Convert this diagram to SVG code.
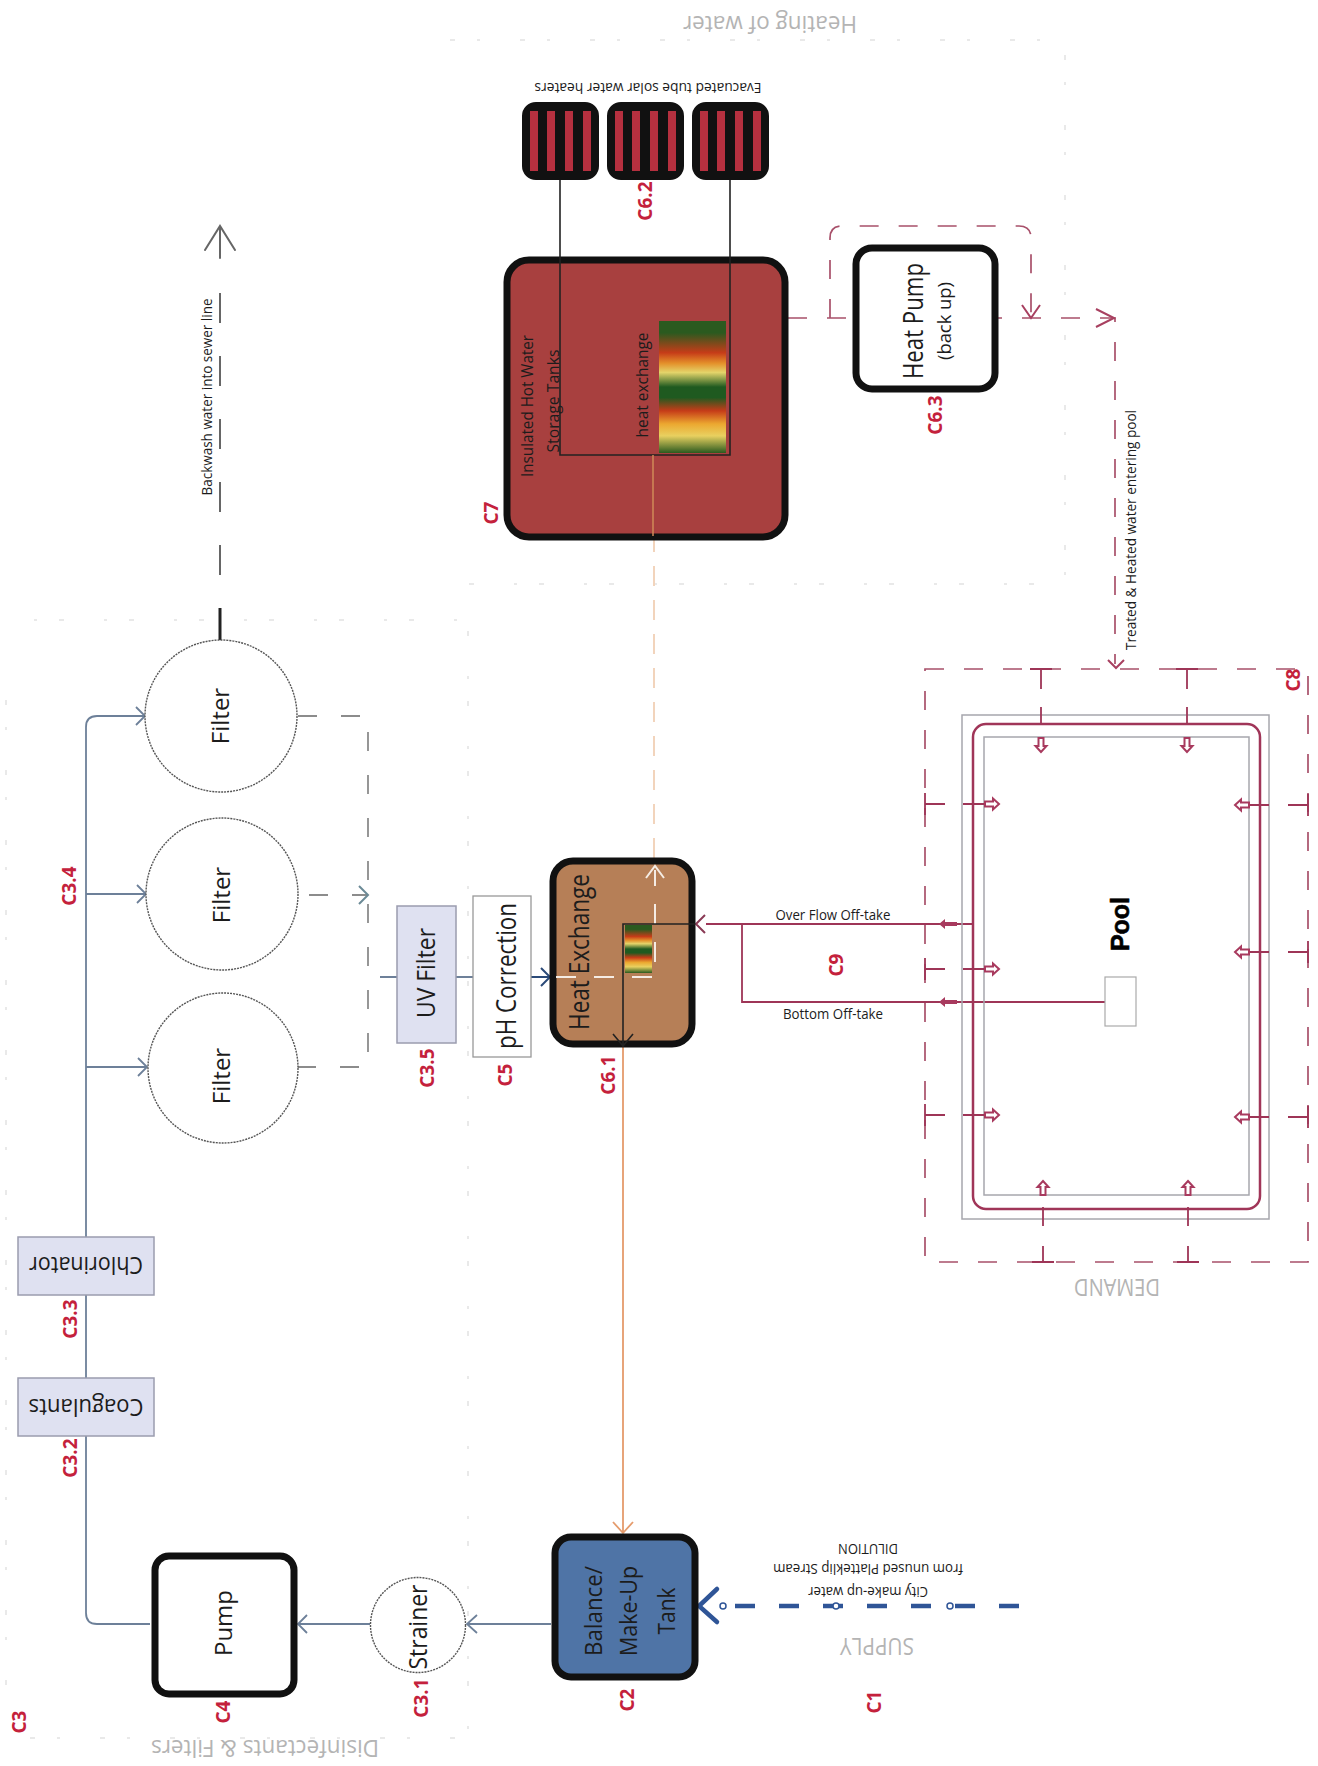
<svg xmlns="http://www.w3.org/2000/svg" xmlns:xlink="http://www.w3.org/1999/xlink" width="1318" height="1766" viewBox="0 0 1318 1766">
<style>
text{font-family:"Open Sans","Noto Sans","Liberation Sans",sans-serif;text-anchor:middle;dominant-baseline:central;fill:#1c1c1c}
.code{font-weight:700;font-size:19px;fill:#c4213c}
.zone{fill:#b4b4b4;font-size:24px}
.small{font-size:15px}
.faint{fill:none;stroke:#e2e2e2;stroke-width:1.5;stroke-dasharray:5 22 3 40}
.box{stroke:#111;stroke-width:7}
.chem{fill:#dfe1f1;stroke:#9b9cae;stroke-width:1.5}
.filter{fill:#fff;stroke:#555;stroke-width:1.4;stroke-dasharray:2 1}
.blue{fill:none;stroke:#6d8099;stroke-width:1.8}
.grey{fill:none;stroke:#8c8c8c;stroke-width:1.8;stroke-dasharray:19 24}
.red{fill:none;stroke:#9e3557;stroke-width:1.8}
.reddash{fill:none;stroke:#a8506a;stroke-width:1.7;stroke-dasharray:19 20}
.gr{fill:none;stroke:#a7a7ad;stroke-width:1.5}
.blk{fill:none;stroke:#222;stroke-width:1.6}
.panel{fill:#111;stroke:#111;stroke-width:2}
.strip{fill:#b5303f}
</style>
<defs>
<linearGradient id="heat" x1="0" y1="0" x2="0" y2="1">
<stop offset="0" stop-color="#2b5a1f"/><stop offset=".09" stop-color="#2b5a1f"/><stop offset=".24" stop-color="#c63c18"/><stop offset=".32" stop-color="#e4902a"/><stop offset=".39" stop-color="#e4d46a"/><stop offset=".5" stop-color="#1f5a20"/><stop offset=".58" stop-color="#1f5a20"/><stop offset=".68" stop-color="#c63c18"/><stop offset=".78" stop-color="#eca830"/><stop offset=".87" stop-color="#e8d060"/><stop offset="1" stop-color="#2b5a1f"/>
</linearGradient>
<g id="inlet"><path d="M0 -7 L5.5 -1 H2.5 V7 H-2.5 V-1 H-5.5 Z" fill="#fff" stroke="#a83a5e" stroke-width="2"/></g>
<g id="out"><path d="M-9 0 L-3 -5 V-2 H9 V2 H-3 V5 Z" fill="#a83a5e"/></g>
<g id="panel"><rect class="panel" x="0" y="0" width="75" height="76" rx="13"/><rect class="strip" x="7" y="8" width="8" height="60"/><rect class="strip" x="24" y="8" width="8" height="60"/><rect class="strip" x="42" y="8" width="8" height="60"/><rect class="strip" x="60" y="8" width="8" height="60"/></g>
</defs>
<rect width="1318" height="1766" fill="#fff"/>

<g id="zones">
<path class="faint" d="M30 1738H468V620H30"/>
<path class="faint" d="M6 700V1700"/>
<path class="faint" d="M450 40H1065V584H450"/>
<text class="zone" transform="rotate(180 265 1749)" x="265" y="1749" textLength="228" lengthAdjust="spacingAndGlyphs">Disinfectants &amp; Filters</text>
<text class="zone" transform="rotate(180 770 25)" x="770" y="25" textLength="174" lengthAdjust="spacingAndGlyphs">Heating of water</text>
<text class="zone" transform="rotate(180 877 1647)" x="877" y="1647" textLength="74" lengthAdjust="spacingAndGlyphs">SUPPLY</text>
<text class="zone" transform="rotate(180 1117 1288)" x="1117" y="1288" textLength="86" lengthAdjust="spacingAndGlyphs">DEMAND</text>
</g>

<g id="connectors">
<path class="blue" d="M551 1624H468M477 1615L467 1624L477 1633"/>
<path class="blue" d="M370 1624H298M307 1615L298 1624L307 1633"/>
<path class="blue" d="M150 1624H97Q86 1624 86 1613V727Q86 716 97 716H145"/>
<path class="blue" d="M136 707L145 716L136 725M86 894H146M137 885L146 894L137 903M86 1067H147M138 1058L147 1067L138 1076"/>
<path class="grey" d="M298 716H368V1067H298"/>
<path class="grey" d="M309 895H368"/>
<path fill="none" stroke="#6b8a96" stroke-width="2" d="M359 886L368 895L359 904"/>
<path class="blue" d="M380 977H397M456 977H473"/>
<path stroke="#2b4a78" stroke-width="2" fill="none" d="M531 977H550M541 968L550 977L541 986"/>
<path stroke="#e59b6c" stroke-width="1.8" fill="none" d="M623 1047V1533M613 1522L623 1533L633 1522"/>
<path stroke="#f2d4bc" stroke-width="2" fill="none" stroke-dasharray="20 14" d="M654 858V455"/>
<path stroke="#2f5597" stroke-width="4.5" fill="none" stroke-dasharray="20 24" d="M1019 1606H725"/>
<path stroke="#2f5597" stroke-width="4.5" fill="none" stroke-linecap="round" d="M717 1589L699 1606L717 1622"/>
<g fill="#fff" stroke="#2f5597" stroke-width="1.5"><circle cx="723" cy="1606" r="3"/><circle cx="836" cy="1606" r="3"/><circle cx="950" cy="1606" r="3"/></g>
<path fill="none" stroke="#222" stroke-width="3" d="M220 640V608"/>
<path fill="none" stroke="#666" stroke-width="2" stroke-dasharray="30 33" d="M220 575V291"/>
<path fill="none" stroke="#666" stroke-width="2" stroke-linecap="round" d="M220 258V226M205 250L220 226L235 250"/>
<path class="red" d="M973 924H706M742 924V1002H1105"/>
<path fill="none" stroke="#8a3a55" stroke-width="2" d="M705 915L696 924L705 933"/>
<use xlink:href="#out" href="#out" x="948" y="924"/>
<use xlink:href="#out" href="#out" x="948" y="1002"/>
<path class="reddash" d="M788 318H1115V664"/>
<path class="reddash" d="M830 318V238Q830 226 842 226H1019Q1031 226 1031 238V318"/>
<path fill="none" stroke="#a84060" stroke-width="2" d="M1096 309L1114 318L1096 327M1022 305L1031 318L1040 305M1108 660L1116 668L1124 660"/>
</g>

<g id="pool">
<rect class="reddash" x="925" y="669" width="383" height="593"/>
<rect class="gr" x="962" y="715" width="307" height="504"/>
<rect fill="none" stroke="#a03558" stroke-width="2.5" x="973" y="724" width="287" height="485" rx="13"/>
<rect class="gr" x="984" y="737" width="265" height="458"/>
<rect fill="#fff" stroke="#aaa" stroke-width="1.2" x="1105" y="977" width="31" height="49"/>
<path class="red" d="M1030 669H1052M1041 669V689M1041 707V724M1176 669H1198M1187 669V689M1187 707V724M1032 1262H1054M1043 1262V1246M1043 1226V1207M1177 1262H1199M1188 1262V1246M1188 1226V1207M925 793V815M925 804H945M963 804H985M925 958V980M925 969H945M963 969H985M925 1104V1126M925 1115H945M963 1115H985M1308 794V816M1308 805H1288M1269 805H1248M1308 941V963M1308 952H1288M1269 952H1248M1308 1106V1128M1308 1117H1288M1269 1117H1248"/>
<use xlink:href="#inlet" href="#inlet" transform="translate(1041 745) rotate(180)"/>
<use xlink:href="#inlet" href="#inlet" transform="translate(1187 745) rotate(180)"/>
<use xlink:href="#inlet" href="#inlet" transform="translate(1043 1188)"/>
<use xlink:href="#inlet" href="#inlet" transform="translate(1188 1188)"/>
<use xlink:href="#inlet" href="#inlet" transform="translate(992 804) rotate(90)"/>
<use xlink:href="#inlet" href="#inlet" transform="translate(992 969) rotate(90)"/>
<use xlink:href="#inlet" href="#inlet" transform="translate(992 1115) rotate(90)"/>
<use xlink:href="#inlet" href="#inlet" transform="translate(1242 805) rotate(-90)"/>
<use xlink:href="#inlet" href="#inlet" transform="translate(1242 952) rotate(-90)"/>
<use xlink:href="#inlet" href="#inlet" transform="translate(1242 1117) rotate(-90)"/>
<text transform="rotate(-90 1120 924)" x="1120" y="924" font-weight="800" font-size="25" style="fill:#000;stroke:#000;stroke-width:.6;font-family:'Liberation Sans',sans-serif">Pool</text>
<text class="code" transform="rotate(-90 1293 680)" x="1293" y="680">C8</text>
</g>

<g id="balance-tank">
<rect class="box" x="555" y="1537" width="140" height="140" rx="16" fill="#4f74a6"/>
<text transform="rotate(-90 592 1611)" x="592" y="1611" font-size="24" textLength="90" lengthAdjust="spacingAndGlyphs">Balance/</text>
<text transform="rotate(-90 627 1611)" x="627" y="1611" font-size="24" textLength="90" lengthAdjust="spacingAndGlyphs">Make-Up</text>
<text transform="rotate(-90 665 1611)" x="665" y="1611" font-size="24" textLength="47" lengthAdjust="spacingAndGlyphs">Tank</text>
</g>
<g id="strainer"><circle class="filter" cx="418" cy="1625" r="47.5"/><text transform="rotate(-90 417 1627)" x="417" y="1627" font-size="25" textLength="85" lengthAdjust="spacingAndGlyphs">Strainer</text></g>
<g id="pump"><rect class="box" x="155" y="1556" width="139" height="138" rx="14" fill="#fff"/><text transform="rotate(-90 222 1623)" x="222" y="1623" font-size="24">Pump</text></g>
<g id="coagulants"><rect class="chem" x="18" y="1378" width="136" height="58"/><text transform="rotate(180 86 1408)" x="86" y="1408" font-size="24" textLength="115" lengthAdjust="spacingAndGlyphs">Coagulants</text></g>
<g id="chlorinator"><rect class="chem" x="18" y="1237" width="136" height="58"/><text transform="rotate(180 86 1266)" x="86" y="1266" font-size="24" textLength="114" lengthAdjust="spacingAndGlyphs">Chlorinator</text></g>
<g id="filter-1"><circle class="filter" cx="221" cy="716" r="76"/><text transform="rotate(-90 219 716)" x="219" y="716" font-size="24">Filter</text></g>
<g id="filter-2"><circle class="filter" cx="222" cy="894" r="76"/><text transform="rotate(-90 220 895)" x="220" y="895" font-size="24">Filter</text></g>
<g id="filter-3"><circle class="filter" cx="223" cy="1068" r="75"/><text transform="rotate(-90 220 1076)" x="220" y="1076" font-size="24">Filter</text></g>
<g id="uv-filter"><rect class="chem" x="397" y="906" width="59" height="137"/><text transform="rotate(-90 425 973)" x="425" y="973" font-size="25" textLength="90" lengthAdjust="spacingAndGlyphs">UV Filter</text></g>
<g id="ph-correction"><rect fill="#fff" stroke="#999" stroke-width="1.3" x="473" y="896" width="58" height="161"/><text transform="rotate(-90 505 976)" x="505" y="976" font-size="27" textLength="146" lengthAdjust="spacingAndGlyphs">pH Correction</text></g>
<g id="heat-exchange">
<rect class="box" x="553" y="861" width="139" height="183" rx="20" fill="#b67f57"/>
<rect x="625" y="925" width="27" height="48" fill="url(#heat)"/>
<path fill="none" stroke="#f5ece4" stroke-width="2" stroke-dasharray="20 18" d="M556 977H655V870"/>
<path fill="none" stroke="#f5ece4" stroke-width="2" d="M646 878L655 866L664 878"/>
<path class="blk" stroke-width="2" d="M695 924H623V1047M613 1034L623 1046L633 1034"/>
<text transform="rotate(-90 578 952)" x="578" y="952" font-size="27" textLength="156" lengthAdjust="spacingAndGlyphs">Heat Exchange</text>
</g>
<g id="storage-tank">
<rect class="box" x="507" y="260" width="278" height="277" rx="22" fill="#a8403f"/>
<rect x="659" y="321" width="67" height="132" fill="url(#heat)"/>
<path class="blk" d="M560 178V455H730V178"/>
<path stroke="#d08a58" stroke-width="1.5" fill="none" d="M653 455V536"/>
<text transform="rotate(-90 526 406)" x="526" y="406" font-size="17" textLength="142" lengthAdjust="spacingAndGlyphs">Insulated Hot Water</text>
<text transform="rotate(-90 552 401)" x="552" y="401" font-size="17" textLength="103" lengthAdjust="spacingAndGlyphs">Storage Tanks</text>
<text transform="rotate(-90 641 385)" x="641" y="385" font-size="17" textLength="105" lengthAdjust="spacingAndGlyphs">heat exchange</text>
</g>
<g id="solar-heaters">
<use xlink:href="#panel" href="#panel" x="523" y="103"/>
<use xlink:href="#panel" href="#panel" x="608" y="103"/>
<use xlink:href="#panel" href="#panel" x="693" y="103"/>
<text class="small" transform="rotate(180 648 89)" x="648" y="89" textLength="227" lengthAdjust="spacingAndGlyphs">Evacuated tube solar water heaters</text>
</g>
<g id="heat-pump">
<rect class="box" x="856" y="248" width="139" height="141" rx="16" fill="#fff"/>
<text transform="rotate(-90 912 321)" x="912" y="321" font-size="27" textLength="116" lengthAdjust="spacingAndGlyphs">Heat Pump</text>
<text transform="rotate(-90 944 321)" x="944" y="321" font-size="19" textLength="78" lengthAdjust="spacingAndGlyphs">(back up)</text>
</g>

<g id="labels">
<text class="small" x="833" y="914" textLength="115" lengthAdjust="spacingAndGlyphs">Over Flow Off-take</text>
<text class="small" x="833" y="1013" textLength="100" lengthAdjust="spacingAndGlyphs">Bottom Off-take</text>
<text class="small" transform="rotate(-90 1130 530)" x="1130" y="530" textLength="240" lengthAdjust="spacingAndGlyphs">Treated &amp; Heated water entering pool</text>
<text class="small" transform="rotate(-90 206 397)" x="206" y="397" textLength="197" lengthAdjust="spacingAndGlyphs">Backwash water into sewer line</text>
<text class="small" transform="rotate(180 868 1593)" x="868" y="1593" textLength="120" lengthAdjust="spacingAndGlyphs">City make-up water</text>
<text class="small" transform="rotate(180 868 1570)" x="868" y="1570" textLength="190" lengthAdjust="spacingAndGlyphs">from unused Platteklip Stream</text>
<text class="small" transform="rotate(180 868 1550)" x="868" y="1550" textLength="60" lengthAdjust="spacingAndGlyphs">DILUTION</text>
<text class="code" transform="rotate(-90 19 1722)" x="19" y="1722">C3</text>
<text class="code" transform="rotate(-90 223 1712)" x="223" y="1712">C4</text>
<text class="code" transform="rotate(-90 421 1698)" x="421" y="1698">C3.1</text>
<text class="code" transform="rotate(-90 627 1700)" x="627" y="1700">C2</text>
<text class="code" transform="rotate(-90 874 1702)" x="874" y="1702">C1</text>
<text class="code" transform="rotate(-90 70 1458)" x="70" y="1458">C3.2</text>
<text class="code" transform="rotate(-90 70 1319)" x="70" y="1319">C3.3</text>
<text class="code" transform="rotate(-90 69 886)" x="69" y="886">C3.4</text>
<text class="code" transform="rotate(-90 427 1068)" x="427" y="1068">C3.5</text>
<text class="code" transform="rotate(-90 505 1075)" x="505" y="1075">C5</text>
<text class="code" transform="rotate(-90 608 1075)" x="608" y="1075">C6.1</text>
<text class="code" transform="rotate(-90 836 965)" x="836" y="965">C9</text>
<text class="code" transform="rotate(-90 645 201)" x="645" y="201">C6.2</text>
<text class="code" transform="rotate(-90 935 415)" x="935" y="415">C6.3</text>
<text class="code" transform="rotate(-90 491 513)" x="491" y="513">C7</text>
</g>
</svg>
